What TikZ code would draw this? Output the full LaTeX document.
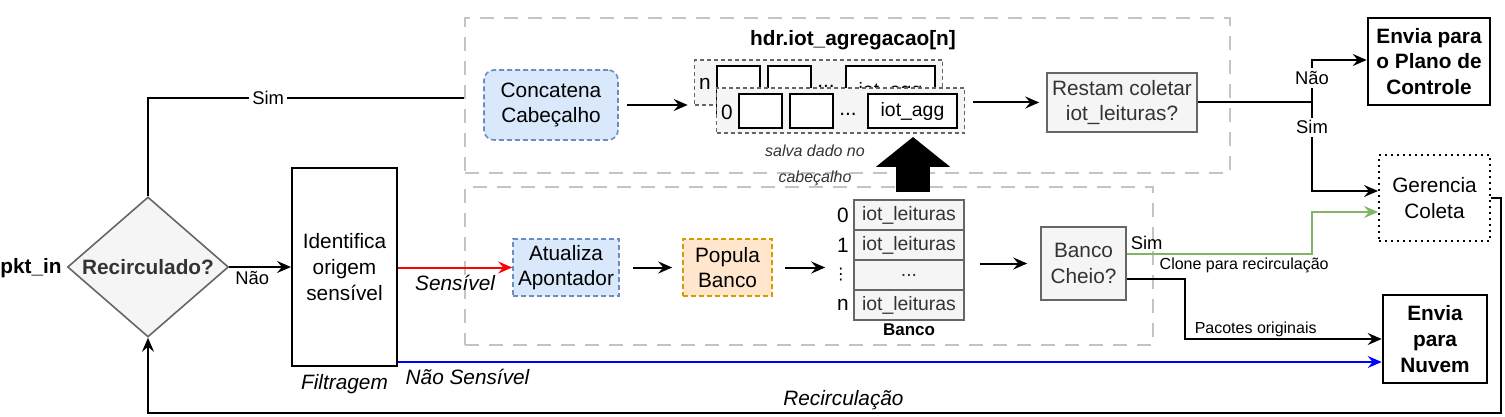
\documentclass[tikz,border=0pt]{standalone}
\usepackage{fontspec}
\setmainfont{Liberation Sans}
\newfontfamily\symbolfont{DejaVu Sans}
\usepackage{tikz}
\usetikzlibrary{positioning,shapes.geometric,arrows.meta,calc}
\definecolor{boxgray}{HTML}{F5F5F5}
\definecolor{linegray}{HTML}{666666}
\definecolor{textgray}{HTML}{333333}
\definecolor{groupgray}{HTML}{C4C4C4}
\definecolor{lightblue}{HTML}{DAE8FC}
\definecolor{darkblueline}{HTML}{6C8EBF}
\definecolor{lightorange}{HTML}{FFE6CC}
\definecolor{darkorange}{HTML}{D79B00}
\definecolor{darkgreen}{HTML}{82B366}
\definecolor{purered}{HTML}{FF0000}
\definecolor{pureblue}{HTML}{0000FF}
\newcommand{\mainsize}{\fontsize{10.4}{12.8}\selectfont}
\newcommand{\cellsize}{\fontsize{9.7}{11.5}\selectfont}
\newcommand{\labelsize}{\fontsize{9.2}{11}\selectfont}
\newcommand{\notesize}{\fontsize{8}{13}\selectfont}

\begin{document}
\begin{tikzpicture}[x=0.5pt,y=-0.5pt,font=\mainsize,
    >={Stealth[length=7pt,width=6pt,inset=2.5pt]},
    link/.style={line width=1pt},
    conn/.style={link,->},
    edgelabel/.style={font=\labelsize,inner sep=1.5pt},
    plainbox/.style={draw,line width=1pt,align=center,inner sep=1pt},
    sendbox/.style={plainbox,line width=1.3pt,font=\mainsize\bfseries},
    graybox/.style={draw=linegray,fill=boxgray,text=textgray,line width=0.8pt,align=center,inner sep=1pt},
    bluebox/.style={draw=darkblueline,fill=lightblue,line width=0.8pt,dash pattern=on 2.5pt off 1.5pt,align=center,inner sep=1pt},
    orangebox/.style={draw=darkorange,fill=lightorange,line width=0.8pt,dash pattern=on 2.5pt off 1.5pt,align=center,inner sep=1pt},
    groupbox/.style={draw=groupgray,line width=0.8pt,dash pattern=on 7pt off 5pt},
    arraybox/.style={draw=linegray,fill=boxgray,line width=0.8pt,dash pattern=on 2pt off 1.5pt,minimum width=124pt,minimum height=22.5pt,inner sep=0pt},
    cellbox/.style={draw,line width=1pt,fill=white,minimum width=21.5pt,inner sep=0pt,anchor=north,font=\cellsize},
    bankcell/.style={draw=linegray,fill=boxgray,text=textgray,line width=0.8pt,minimum width=55pt,minimum height=15pt,inner sep=0pt,font=\cellsize},
  ]
  \useasboundingbox (0,0) rectangle (1505,417);

  \node[groupbox,minimum width=382.5pt,minimum height=77.5pt] (grpagg) at (847.5,95.5) {};
  \node[groupbox,minimum width=344pt,minimum height=79pt] (grpbank) at (809,266) {};

  \node[font=\mainsize\bfseries] (pktin) at (31,268) {pkt\_in};
  \node[shape=diamond,aspect=1.15,draw=linegray,fill=boxgray,text=textgray,line width=0.8pt,
    inner sep=0pt,minimum width=80.5pt,minimum height=70pt,font=\mainsize\bfseries] (dec) at (148,267) {Recirculado?};
  \node[plainbox,minimum width=52.5pt,minimum height=99pt] (filt) at (344.5,267) {Identifica\\origem\\sensível};
  \node[below=0pt of filt,font=\mainsize\itshape] (filtlabel) {Filtragem};

  \node[bluebox,rounded corners=5pt,minimum width=67pt,minimum height=35pt] (conc) at (551,105) {Concatena\\Cabeçalho};
  \node[font=\mainsize\bfseries] (aggtitle) at (853,40) {hdr.iot\_agregacao[n]};
  \foreach \lay/\dx/\dy/\ch in {n/0/0/50, 0/22/28/34} {
    \begin{scope}[shift={(\dx,\dy)}]
      \node[arraybox] (arr\lay) at (818.5,82.5) {};
      \node (idx\lay) at (705,84) {\lay};
      \node[cellbox,minimum height=0.5pt*\ch] (cell\lay-1) at (738.5,65) {};
      \node[cellbox,minimum height=0.5pt*\ch] (cell\lay-2) at (789.5,65) {};
      \node (dots\lay) at (826,86) {...};
      \node[cellbox,minimum height=0.5pt*\ch,minimum width=44.5pt] (cell\lay-3) at (890.5,65) {iot\_agg};
    \end{scope}
  }
  \node[font=\notesize\itshape,text=textgray,align=center] (savenote) at (815,165) {salva dado no\\cabeçalho};
  \node[graybox,minimum width=75pt,minimum height=29.5pt] (restam) at (1122,102.5) {Restam coletar\\iot\_leituras?};

  \node[bluebox,minimum width=53pt,minimum height=28.5pt] (atual) at (566,267.5) {Atualiza\\Apontador};
  \node[orangebox,minimum width=44.5pt,minimum height=28.5pt] (popula) at (727.5,267.5) {Popula\\Banco};
  \foreach \row/\idx/\txt in {0/0/iot\_leituras, 1/1/iot\_leituras, 2/{\symbolfont\fontsize{8}{8}\selectfont ⋮}/{...}, 3/n/iot\_leituras} {
    \node[bankcell] (row\row) at (909,{215+30*\row}) {\txt};
    \node[left=1pt of row\row,inner sep=1pt] (rowidx\row) {\idx};
  }
  \node[below=0pt of row3,font=\fontsize{8.5}{10}\selectfont\bfseries,inner sep=1.5pt] (banklabel) {Banco};
  \node[graybox,minimum width=42.5pt,minimum height=36.5pt] (bcheio) at (1083.5,263.5) {Banco\\Cheio?};

  \node[sendbox,minimum width=61pt,minimum height=43.5pt] (plano) at (1429,61.5) {Envia para\\o Plano de\\Controle};
  \node[plainbox,dotted,minimum width=55.5pt,minimum height=43pt] (ger) at (1434.5,198) {Gerencia\\Coleta};
  \node[sendbox,minimum width=52pt,minimum height=44pt] (nuvem) at (1435,339) {Envia\\para\\Nuvem};

  \coordinate (savetip) at (913,137);
  \coordinate (split) at (1312,102.5);
  \coordinate (gercorner) at ($(split |- ger.west)+(0,14)$);
  \coordinate (nsstart) at ($(filt.south east)+(0,-5)$);
  \coordinate (recirc) at (1501,413);

  \draw[link] (dec.north) |- ([yshift=-1.25pt]grpagg.west) node[edgelabel,fill=white,pos=0.69] {Sim};
  \draw[conn] (dec.east) -- (filt.west) node[edgelabel,below,pos=0.37] {Não};
  \draw[conn,purered] (filt.east |- atual.west) -- (atual.west)
    node[below,midway,text=black,font=\mainsize\itshape] {Sensível};
  \draw[conn,pureblue] (nsstart) -- (nsstart -| nuvem.west)
    node[pos=0,below right,text=black,font=\mainsize\itshape] {Não Sensível};
  \draw[conn] (ger.east) -| (recirc) -| (dec.south)
    node[above,pos=0.243,inner sep=1pt,font=\mainsize\itshape] {Recirculação};

  \draw[conn,shorten <=4pt,shorten >=3pt] (conc.east) -- (conc.east -| arrn.west);
  \draw[conn,shorten <=4pt,shorten >=3.5pt] (arr0.east |- restam.west) -- (restam.west);
  \draw[link] (restam.east) -- (split);
  \draw[conn] (split) |- ([yshift=0.75pt]plano.west) node[edgelabel,fill=white,pos=0.29] {Não};
  \draw[conn] (split) |- ([yshift=3.5pt]ger.west) node[edgelabel,fill=white,pos=0.14] {Sim};

  \draw[conn,shorten <=6.5pt,shorten >=5pt] (atual.east) -- (popula.west);
  \draw[conn,shorten <=6pt,shorten >=14pt] (popula.east) -- (popula.east -| row2.west);
  \draw[conn,shorten <=7.5pt,shorten >=6.5pt] (bcheio.west -| row2.east) -- (bcheio.west);
  \draw[line width=17pt,-{Triangle[length=15pt,width=36.5pt]}] ($(savetip |- row0.north)+(0,-7)$) -- (savetip);

  \draw[conn,darkgreen] ([yshift=4.75pt]bcheio.east) node[edgelabel,anchor=south west,text=black] {Sim}
    -| (gercorner) node[pos=0.078,anchor=north west,inner sep=1.5pt,text=black,font=\notesize] {Clone para recirculação}
    -- (gercorner -| ger.west);
  \draw[conn] ([yshift=-7.75pt]bcheio.east) -- ++(58,0) |- (nuvem.west)
    node[above,pos=0.68,inner sep=0.5pt,font=\notesize] {Pacotes originais};
\end{tikzpicture}
\end{document}
